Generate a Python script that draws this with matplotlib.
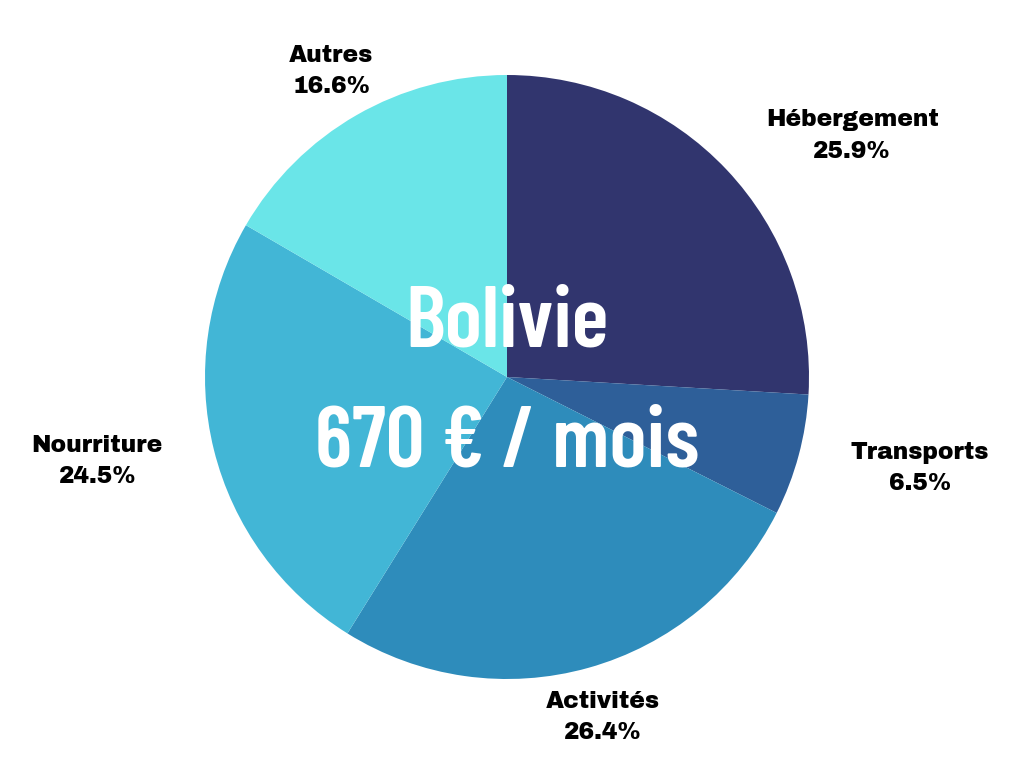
import matplotlib
matplotlib.use("Agg")
import matplotlib.pyplot as plt
import numpy as np

categories = ["Hébergement", "Transports", "Activités", "Nourriture", "Autres"]
values = [25.9, 6.5, 26.4, 24.5, 16.6]
colors = ["#31356E", "#2E5F99", "#2E8CBB", "#42B6D6", "#6AE5E8"]
title_line1 = "Bolivie"
title_line2 = "670 € / mois"

# label placement: radial distance (pie radii) and angular nudge (degrees)
label_dist = [1.394, 1.40, 1.17, 1.385, 1.168]
label_nudge = [-8.4, 2.5, 0.0, -2.3, 0.0]

fig = plt.figure(figsize=(10.24, 7.68), dpi=100)
ax = fig.add_axes([0, 0, 1, 1])
R = 302.0
cx, cy = 507.0, 377.0

wedges, _ = ax.pie(values, colors=colors, startangle=90, counterclock=False,
                   radius=1.0, center=(0, 0), frame=True,
                   wedgeprops=dict(linewidth=0, antialiased=True))
ax.set_xlim(-cx / R, (1024 - cx) / R)
ax.set_ylim(-(768 - cy) / R, cy / R)
ax.set_aspect("equal")
ax.axis("off")

for w, name, v, d, nd in zip(wedges, categories, values, label_dist, label_nudge):
    ang = np.deg2rad((w.theta1 + w.theta2) / 2 + nd)
    x, y = d * np.cos(ang), d * np.sin(ang)
    ax.text(x, y, f"{name}\n{v}%", ha="center", va="center",
            fontsize=16.8, family=["Archivo Black", "DejaVu Sans"],
            color="black", linespacing=1.54)

ax.text(0, 0.175, title_line1, ha="center", va="center", color="white",
        fontsize=62, family=["Barlow Condensed", "DejaVu Sans"], fontweight="semibold")
ax.text(0, -0.225, title_line2, ha="center", va="center", color="white",
        fontsize=62, family=["Barlow Condensed", "DejaVu Sans"], fontweight="semibold")

fig.savefig("out.png", dpi=100, facecolor="white")
